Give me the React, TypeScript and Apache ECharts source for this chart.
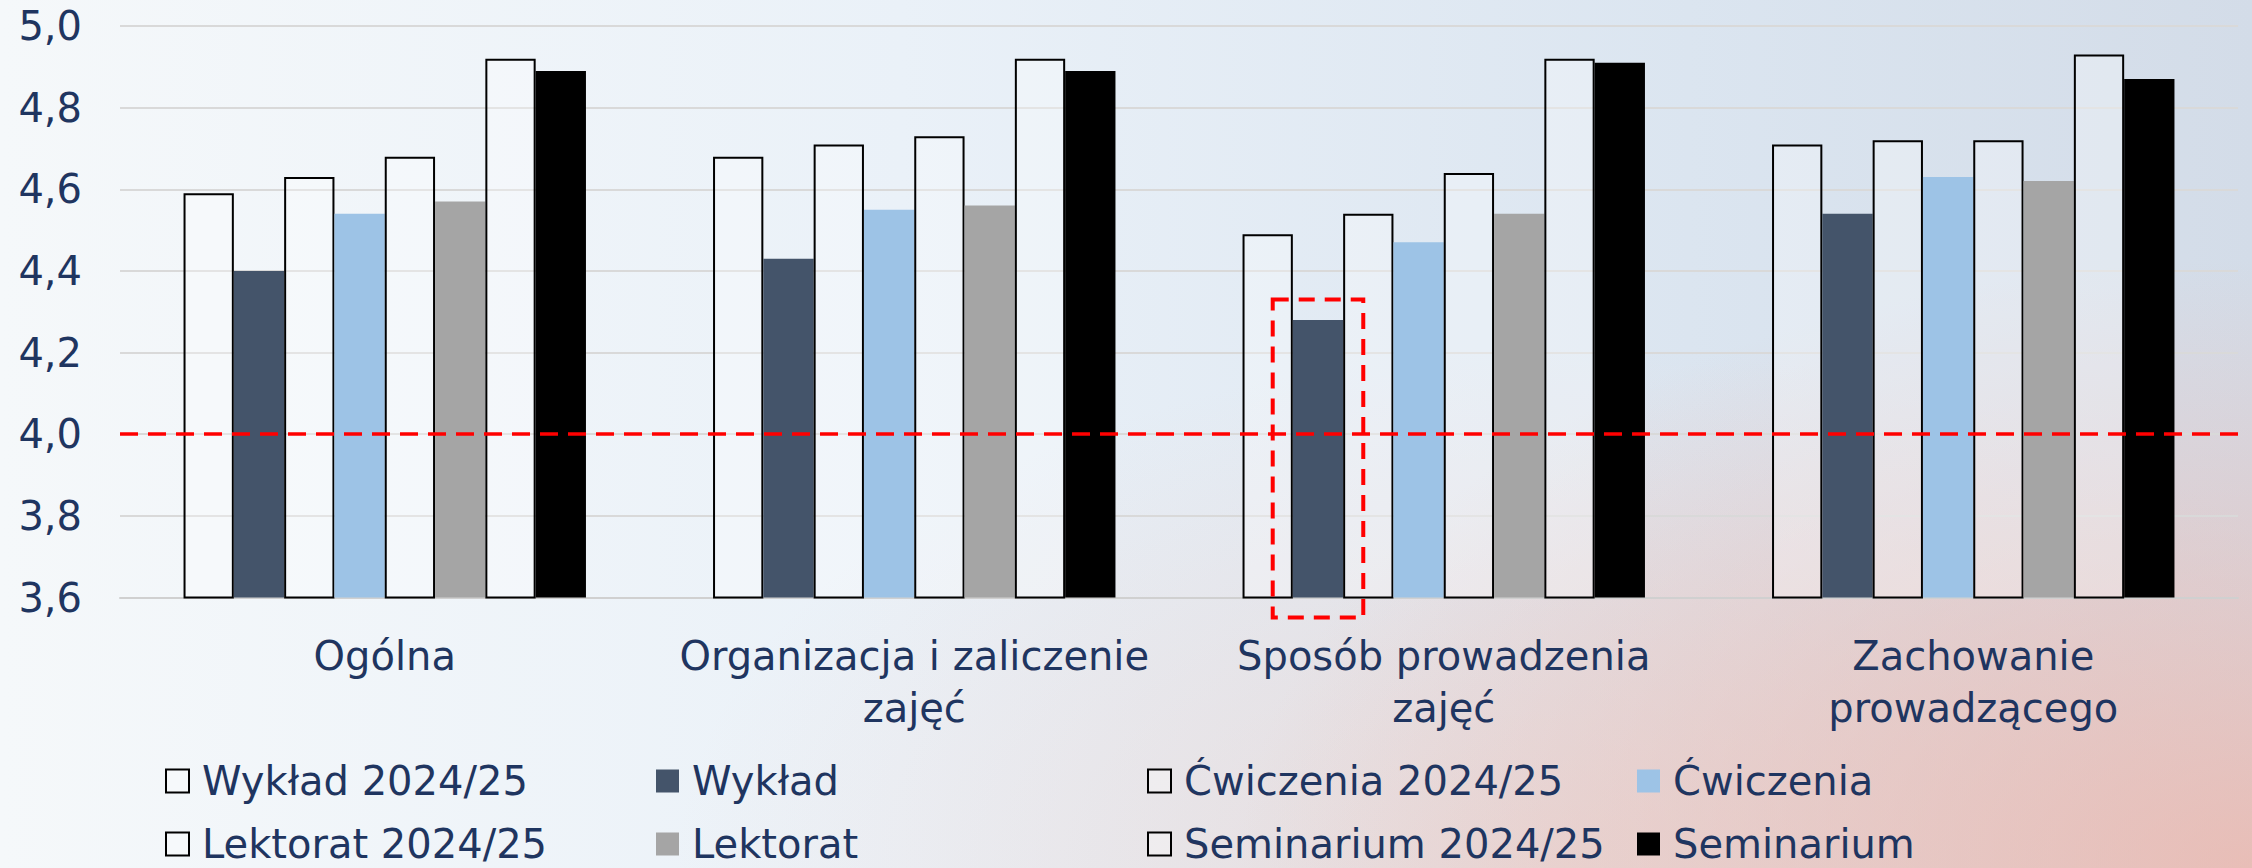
import React, { useEffect, useRef } from "react";
import * as echarts from "echarts";

const categories = [
  "Ogólna",
  "Organizacja i zaliczenie\nzajęć",
  "Sposób prowadzenia\nzajęć",
  "Zachowanie\nprowadzącego",
];

const wyklad2425 = [4.59, 4.68, 4.49, 4.71];
const wyklad = [4.4, 4.43, 4.28, 4.54];
const cwiczenia2425 = [4.63, 4.71, 4.54, 4.72];
const cwiczenia = [4.54, 4.55, 4.47, 4.63];
const lektorat2425 = [4.68, 4.73, 4.64, 4.72];
const lektorat = [4.57, 4.56, 4.54, 4.62];
const seminarium2425 = [4.92, 4.92, 4.92, 4.93];
const seminarium = [4.89, 4.89, 4.91, 4.87];

const yMin = 3.6;
const yMax = 5.0;
const yInterval = 0.2;
const threshold = 4.0;

const highlightCategory = 2;
const highlightSeries = 1;

const NAVY = "#1f3560";
const FONT = "DejaVu Sans";

const seriesDefs = [
  { name: "Wykład 2024/25", data: wyklad2425, outlined: true, color: "" },
  { name: "Wykład", data: wyklad, outlined: false, color: "#44546a" },
  { name: "Ćwiczenia 2024/25", data: cwiczenia2425, outlined: true, color: "" },
  { name: "Ćwiczenia", data: cwiczenia, outlined: false, color: "#9dc3e6" },
  { name: "Lektorat 2024/25", data: lektorat2425, outlined: true, color: "" },
  { name: "Lektorat", data: lektorat, outlined: false, color: "#a5a5a5" },
  { name: "Seminarium 2024/25", data: seminarium2425, outlined: true, color: "" },
  { name: "Seminarium", data: seminarium, outlined: false, color: "#000000" },
];

const legendColumns = [
  ["Wykład 2024/25", "Lektorat 2024/25"],
  ["Wykład", "Lektorat"],
  ["Ćwiczenia 2024/25", "Seminarium 2024/25"],
  ["Ćwiczenia", "Seminarium"],
];
const legendLefts = [165, 656, 1147, 1637];

const CATEGORY_GAP = 0.24;

export default function App() {
  const ref = useRef<HTMLDivElement>(null);

  useEffect(() => {
    document.body.style.margin = "0";
    const chart = echarts.init(ref.current!, undefined, { renderer: "svg" });

    const series: any[] = seriesDefs.map((s, i) => ({
      name: s.name,
      type: "bar",
      data: s.data,
      barGap: "0%",
      barCategoryGap: CATEGORY_GAP * 100 + "%",
      itemStyle: s.outlined
        ? { color: "rgba(255,255,255,0.3)", borderColor: "#000000", borderWidth: 2 }
        : { color: s.color, borderWidth: 0 },
      emphasis: { disabled: true },
      ...(i === 0
        ? {
            markLine: {
              silent: true,
              symbol: "none",
              label: { show: false },
              lineStyle: { color: "#ff0000", type: [18, 10], width: 3.5 },
              data: [{ yAxis: threshold }],
              z: 5,
            },
          }
        : {}),
    }));

    const legends = legendColumns.map((col, i) => ({
      data: col,
      orient: "vertical",
      left: legendLefts[i],
      top: 759,
      padding: 0,
      icon: "rect",
      itemWidth: 23,
      itemHeight: 23,
      itemGap: 19,
      selectedMode: false,
      textStyle: {
        color: NAVY,
        fontSize: 40,
        fontFamily: FONT,
        lineHeight: 44,
        padding: [0, 0, 0, 8],
      },
    }));

    chart.setOption({
      animation: false,
      backgroundColor: "transparent",
      textStyle: { fontFamily: FONT },
      grid: { left: 120, right: 14, top: 26, bottom: 270.5, containLabel: false },
      legend: legends,
      xAxis: {
        type: "category",
        data: categories,
        axisTick: { show: false },
        axisLine: { lineStyle: { color: "#d0d0d0", width: 2 } },
        axisLabel: {
          interval: 0,
          color: NAVY,
          fontSize: 40,
          fontFamily: FONT,
          lineHeight: 52,
          margin: 32,
        },
      },
      yAxis: {
        type: "value",
        min: yMin,
        max: yMax,
        interval: yInterval,
        axisLine: { show: false },
        axisTick: { show: false },
        splitLine: { lineStyle: { color: "#d9d9d9", width: 2 } },
        axisLabel: {
          color: NAVY,
          fontSize: 40,
          fontFamily: FONT,
          margin: 38,
          formatter: (v: number) => v.toFixed(1).replace(".", ","),
        },
      },
      series,
    });

    const c0 = chart.convertToPixel({ xAxisIndex: 0 }, 0) as number;
    const c1 = chart.convertToPixel({ xAxisIndex: 0 }, 1) as number;
    const band = c1 - c0;
    const bw = (band * (1 - CATEGORY_GAP)) / seriesDefs.length;
    const cc = chart.convertToPixel({ xAxisIndex: 0 }, highlightCategory) as number;
    const cx = cc + (highlightSeries - (seriesDefs.length - 1) / 2) * bw;
    const yTop = chart.convertToPixel(
      { yAxisIndex: 0 },
      seriesDefs[highlightSeries].data[highlightCategory] + 0.05
    ) as number;
    const yBase = chart.convertToPixel({ yAxisIndex: 0 }, yMin) as number;

    chart.setOption({
      graphic: [
        {
          type: "rect",
          z: 100,
          silent: true,
          shape: { x: cx - 0.9 * bw, y: yTop, width: 1.8 * bw, height: yBase + 20 - yTop },
          style: { fill: "none", stroke: "#ff0000", lineWidth: 4, lineDash: [16, 10] },
        },
      ],
    });

    return () => chart.dispose();
  }, []);

  return (
    <div
      ref={ref}
      style={{
        position: "absolute",
        left: 0,
        top: 0,
        width: 2252,
        height: 868,
        background:
          "radial-gradient(ellipse 45% 70% at 100% 100%, rgba(238,180,168,0.75), rgba(238,180,168,0) 100%), radial-gradient(ellipse 40% 60% at 70% 100%, rgba(240,205,195,0.5), rgba(240,205,195,0) 100%), linear-gradient(90deg, #f5f8fa 0%, #eaf1f8 40%, #dbe5f0 75%, #d3dce8 100%)",
      }}
    />
  );
}
